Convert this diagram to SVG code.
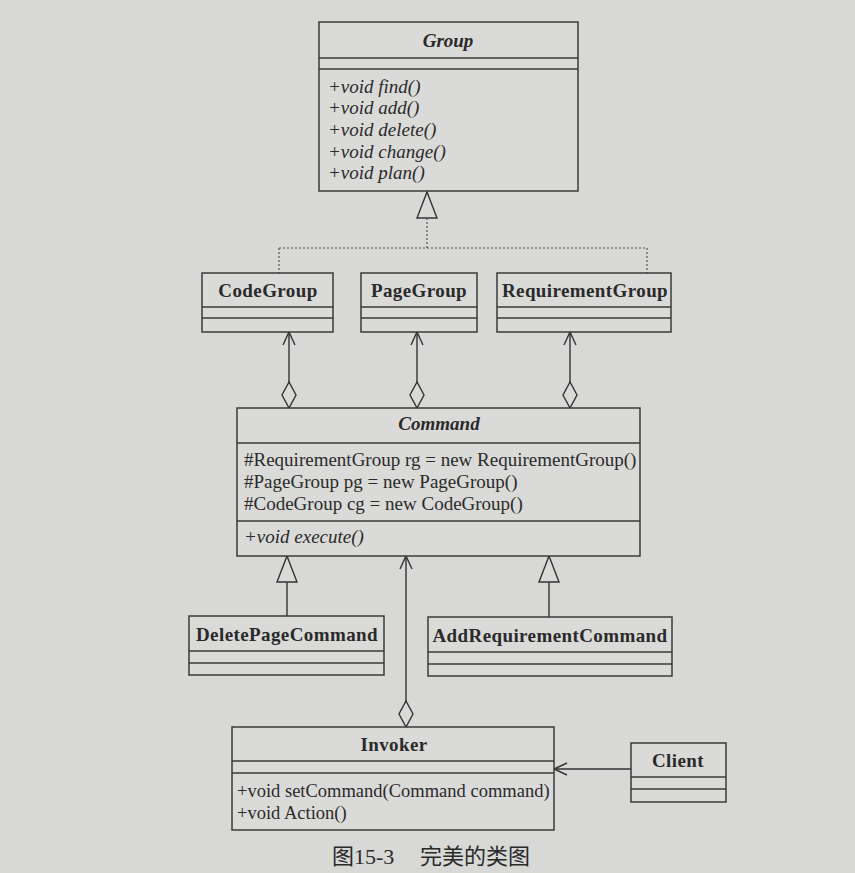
<svg xmlns="http://www.w3.org/2000/svg" width="855" height="873" viewBox="0 0 855 873">
<style>
.bg{fill:#d8d8d6}
.box{fill:#dadad8;stroke:#3a3a3a;stroke-width:1.5}
.div{stroke:#3a3a3a;stroke-width:1.3}
.nm{font-family:"Liberation Serif","Times New Roman",serif;font-weight:bold;font-size:19px;letter-spacing:0.4px;fill:#2a2a2a;text-anchor:middle}
.ab{font-style:italic;letter-spacing:0}
.mb{font-family:"Liberation Serif","Times New Roman",serif;font-size:19px;fill:#2a2a2a}
.sm{font-size:18.5px}
.it{font-style:italic}
.ln{stroke:#333;stroke-width:1.4;fill:none}
.dot{stroke:#555;stroke-width:1.2;stroke-dasharray:2,2;fill:none}
.cap{font-family:"Liberation Serif","Noto Sans CJK SC",serif;font-size:22px;fill:#2a2a2a}
</style>
<defs>
<marker id="tri" markerUnits="userSpaceOnUse" markerWidth="30" markerHeight="24" refX="26" refY="10" orient="auto" overflow="visible">
<path d="M0,0 L26,10 L0,20 Z" fill="#dadad8" stroke="#333" stroke-width="1.4"/>
</marker>
<marker id="open" markerUnits="userSpaceOnUse" markerWidth="16" markerHeight="16" refX="13" refY="6" orient="auto" overflow="visible">
<path d="M0,0 L13,6 L0,12" fill="none" stroke="#333" stroke-width="1.4"/>
</marker>
<marker id="dia" markerUnits="userSpaceOnUse" markerWidth="30" markerHeight="16" refX="0" refY="7" orient="auto" overflow="visible">
<path d="M0,7 L13,0 L26,7 L13,14 Z" fill="#dadad8" stroke="#333" stroke-width="1.4"/>
</marker>
</defs>
<rect class="bg" x="0" y="0" width="855" height="873"/>

<g id="connectors">
<path class="ln" d="M427,218 L427,192" marker-end="url(#tri)"/>
<path class="dot" d="M427,218 L427,248 M279,248 L647,248 M279,248 L279,273 M647,248 L647,273"/>
<path class="ln" d="M289,408 L289,332" marker-start="url(#dia)" marker-end="url(#open)"/>
<path class="ln" d="M417,408 L417,332" marker-start="url(#dia)" marker-end="url(#open)"/>
<path class="ln" d="M570,408 L570,332" marker-start="url(#dia)" marker-end="url(#open)"/>
<path class="ln" d="M287,616 L287,556" marker-end="url(#tri)"/>
<path class="ln" d="M549,617 L549,556" marker-end="url(#tri)"/>
<path class="ln" d="M406,727 L406,556" marker-start="url(#dia)" marker-end="url(#open)"/>
<path class="ln" d="M631,769 L554,769" marker-end="url(#open)"/>
</g>

<g id="Group">
<rect class="box" x="319" y="22" width="259" height="169"/>
<line class="div" x1="319" y1="58" x2="578" y2="58"/>
<line class="div" x1="319" y1="69" x2="578" y2="69"/>
<text class="nm ab" x="448" y="47">Group</text>
<text class="mb it" x="328" y="93">+void find()</text>
<text class="mb it" x="328" y="114">+void add()</text>
<text class="mb it" x="328" y="136">+void delete()</text>
<text class="mb it" x="328" y="158">+void change()</text>
<text class="mb it" x="328" y="179">+void plan()</text>
</g>

<g id="CodeGroup">
<rect class="box" x="202" y="273" width="131" height="59"/>
<line class="div" x1="202" y1="307" x2="333" y2="307"/>
<line class="div" x1="202" y1="318" x2="333" y2="318"/>
<text class="nm" x="268" y="297">CodeGroup</text>
</g>

<g id="PageGroup">
<rect class="box" x="361" y="273" width="116" height="59"/>
<line class="div" x1="361" y1="307" x2="477" y2="307"/>
<line class="div" x1="361" y1="318" x2="477" y2="318"/>
<text class="nm" x="419" y="297">PageGroup</text>
</g>

<g id="RequirementGroup">
<rect class="box" x="497" y="273" width="174" height="59"/>
<line class="div" x1="497" y1="307" x2="671" y2="307"/>
<line class="div" x1="497" y1="318" x2="671" y2="318"/>
<text class="nm" x="585" y="297">RequirementGroup</text>
</g>

<g id="Command">
<rect class="box" x="237" y="408" width="403" height="148"/>
<line class="div" x1="237" y1="443" x2="640" y2="443"/>
<line class="div" x1="237" y1="521" x2="640" y2="521"/>
<text class="nm ab" x="439" y="430">Command</text>
<text class="mb" x="244" y="466">#RequirementGroup rg = new RequirementGroup()</text>
<text class="mb" x="244" y="488">#PageGroup pg = new PageGroup()</text>
<text class="mb" x="244" y="510">#CodeGroup cg = new CodeGroup()</text>
<text class="mb it" x="244" y="543">+void execute()</text>
</g>

<g id="DeletePageCommand">
<rect class="box" x="189" y="616" width="195" height="59"/>
<line class="div" x1="189" y1="651" x2="384" y2="651"/>
<line class="div" x1="189" y1="663" x2="384" y2="663"/>
<text class="nm" x="287" y="641">DeletePageCommand</text>
</g>

<g id="AddRequirementCommand">
<rect class="box" x="428" y="617" width="244" height="59"/>
<line class="div" x1="428" y1="652" x2="672" y2="652"/>
<line class="div" x1="428" y1="664" x2="672" y2="664"/>
<text class="nm" x="550" y="642">AddRequirementCommand</text>
</g>

<g id="Invoker">
<rect class="box" x="232" y="727" width="322" height="103"/>
<line class="div" x1="232" y1="761" x2="554" y2="761"/>
<line class="div" x1="232" y1="773" x2="554" y2="773"/>
<text class="nm" x="394" y="751">Invoker</text>
<text class="mb sm" x="237" y="797">+void setCommand(Command command)</text>
<text class="mb sm" x="237" y="819">+void Action()</text>
</g>

<g id="Client">
<rect class="box" x="631" y="743" width="95" height="59"/>
<line class="div" x1="631" y1="777" x2="726" y2="777"/>
<line class="div" x1="631" y1="789" x2="726" y2="789"/>
<text class="nm" x="678" y="767">Client</text>
</g>

<text class="cap" x="332" y="864">图15-3</text>
<text class="cap" x="420" y="864">完美的类图</text>
</svg>
